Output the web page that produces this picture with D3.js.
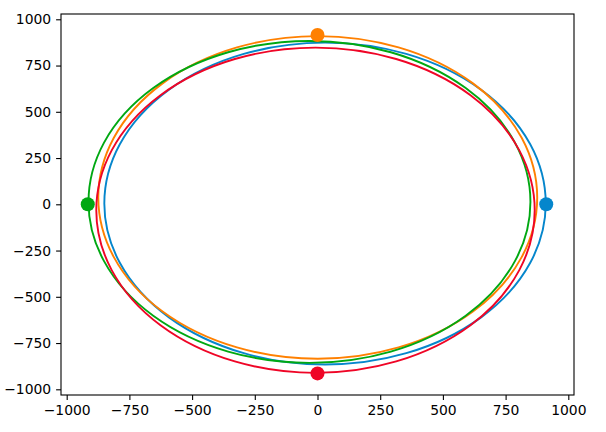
<!DOCTYPE html>
<html>
<head>
<meta charset="utf-8">
<script src="https://cdn.jsdelivr.net/npm/d3@7"></script>
<style>
body { margin: 0; background: #fff; }
text { font-family: "DejaVu Sans", sans-serif; }
</style>
</head>
<body>
<script>
// orbit ellipses (data units)
var orbits = ["blue", "orange", "green", "red"];
var centerX = [30, 1, -32, -8];
var centerY = [4, 37, 13, -32];
var radiusX = [880, 875, 881, 874];
var radiusY = [870, 872, 870, 879];
// big dot on each orbit
var dotX = [912, 0, -916, 0];
var dotY = [0, 915, 0, -914];
var ticks = [-1000, -750, -500, -250, 0, 250, 500, 750, 1000];

var colors = ["#0586cc", "#ff8000", "#00a812", "#ef0526"];

var width = 606,
    height = 432;
var plotLeft = 61, plotRight = 574, plotTop = 14, plotBottom = 395;

var svg = d3.select("body").append("svg")
    .attr("width", width)
    .attr("height", height);

var x = d3.scaleLinear().domain([-1022.7, 1022.7]).range([plotLeft, plotRight]);
var y = d3.scaleLinear().domain([-1030.8, 1028.6]).range([plotBottom, plotTop]);

var fmt = function (d) { return d < 0 ? "\u2212" + Math.abs(d) : "" + d; };

var plot = svg.append("g");

plot.selectAll(".orbit")
    .data(orbits)
    .enter().append("ellipse")
    .attr("class", "orbit")
    .attr("cx", function (d, i) { return x(centerX[i]); })
    .attr("cy", function (d, i) { return y(centerY[i]); })
    .attr("rx", function (d, i) { return x(radiusX[i]) - x(0); })
    .attr("ry", function (d, i) { return y(0) - y(radiusY[i]); })
    .attr("fill", "none")
    .attr("stroke", function (d, i) { return colors[i]; })
    .attr("stroke-width", 1.9);

plot.selectAll(".dot")
    .data(orbits)
    .enter().append("circle")
    .attr("class", "dot")
    .attr("cx", function (d, i) { return x(dotX[i]); })
    .attr("cy", function (d, i) { return y(dotY[i]); })
    .attr("r", 7)
    .attr("fill", function (d, i) { return colors[i]; });

var xAxis = svg.append("g")
    .attr("transform", "translate(0," + plotBottom + ")")
    .call(d3.axisBottom(x).tickValues(ticks).tickFormat(fmt).tickSize(4.9).tickPadding(4.9));

var yAxis = svg.append("g")
    .attr("transform", "translate(" + plotLeft + ",0)")
    .call(d3.axisLeft(y).tickValues(ticks).tickFormat(fmt).tickSize(4.9).tickPadding(4.9));

[xAxis, yAxis].forEach(function (g) {
    g.select(".domain").remove();
    g.selectAll("line").attr("stroke", "#000").attr("stroke-width", 1.1);
    g.selectAll("text")
        .attr("fill", "#000")
        .style("font-size", "13.9px")
        .style("font-family", "'DejaVu Sans', sans-serif");
});

svg.append("rect")
    .attr("x", plotLeft)
    .attr("y", plotTop)
    .attr("width", plotRight - plotLeft)
    .attr("height", plotBottom - plotTop)
    .attr("fill", "none")
    .attr("stroke", "#000")
    .attr("stroke-width", 1.1);
</script>
</body>
</html>
